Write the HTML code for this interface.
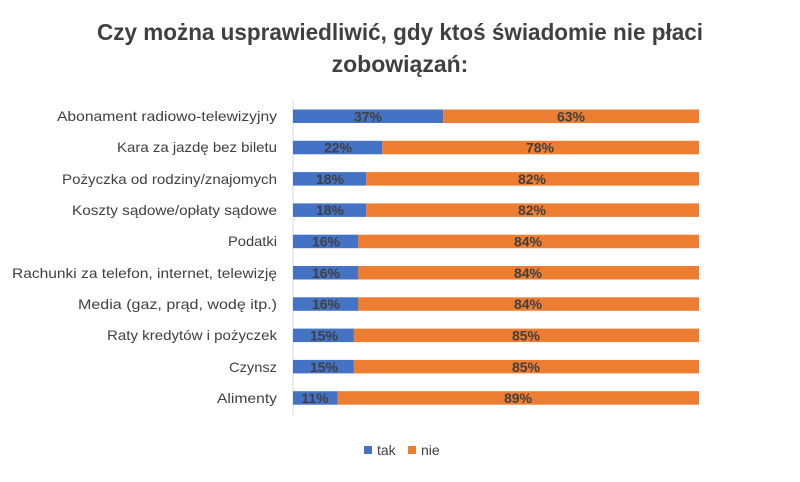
<!DOCTYPE html>
<html><head><meta charset="utf-8"><style>
body{margin:0;background:#fff;width:800px;height:477px;overflow:hidden;font-family:"Liberation Sans",sans-serif;}
</style></head><body>
<svg width="800" height="477" xmlns="http://www.w3.org/2000/svg" font-family="Liberation Sans, sans-serif">
<text x="400" y="40" text-anchor="middle" font-size="23" font-weight="bold" fill="#404040" textLength="606" lengthAdjust="spacingAndGlyphs">Czy można usprawiedliwić, gdy ktoś świadomie nie płaci</text>
<text x="400" y="72" text-anchor="middle" font-size="23" font-weight="bold" fill="#404040">zobowiązań:</text>
<line x1="293" y1="100" x2="293" y2="415" stroke="#d9d9d9"/>
<g font-size="14" fill="#404040" lengthAdjust="spacingAndGlyphs">
<text x="57" y="121" textLength="220" lengthAdjust="spacingAndGlyphs">Abonament radiowo-telewizyjny</text>
<text x="117" y="152" textLength="160" lengthAdjust="spacingAndGlyphs">Kara za jazdę bez biletu</text>
<text x="62" y="184" textLength="215" lengthAdjust="spacingAndGlyphs">Pożyczka od rodziny/znajomych</text>
<text x="72" y="215" textLength="205" lengthAdjust="spacingAndGlyphs">Koszty sądowe/opłaty sądowe</text>
<text x="228" y="246" textLength="49" lengthAdjust="spacingAndGlyphs">Podatki</text>
<text x="12" y="278" textLength="265" lengthAdjust="spacingAndGlyphs">Rachunki za telefon, internet, telewizję</text>
<text x="78" y="309" textLength="199" lengthAdjust="spacingAndGlyphs">Media (gaz, prąd, wodę itp.)</text>
<text x="107" y="340" textLength="170" lengthAdjust="spacingAndGlyphs">Raty kredytów i pożyczek</text>
<text x="229" y="372" textLength="48" lengthAdjust="spacingAndGlyphs">Czynsz</text>
<text x="217" y="403" textLength="60" lengthAdjust="spacingAndGlyphs">Alimenty</text>
</g>
<g font-size="14" font-weight="bold" fill="#404040" text-anchor="middle">
<rect x="293" y="109.5" width="150.2" height="13.5" fill="#4472c4"/><rect x="443.2" y="109.5" width="255.8" height="13.5" fill="#ed7d31"/><text x="368" y="121.5">37%</text><text x="571" y="121.5">63%</text>
<rect x="293" y="140.8" width="89.3" height="13.5" fill="#4472c4"/><rect x="382.3" y="140.8" width="316.7" height="13.5" fill="#ed7d31"/><text x="338" y="152.5">22%</text><text x="540" y="152.5">78%</text>
<rect x="293" y="172.1" width="73.1" height="13.5" fill="#4472c4"/><rect x="366.1" y="172.1" width="332.9" height="13.5" fill="#ed7d31"/><text x="330" y="184">18%</text><text x="532" y="184">82%</text>
<rect x="293" y="203.4" width="73.1" height="13.5" fill="#4472c4"/><rect x="366.1" y="203.4" width="332.9" height="13.5" fill="#ed7d31"/><text x="330" y="215">18%</text><text x="532" y="215">82%</text>
<rect x="293" y="234.7" width="65" height="13.5" fill="#4472c4"/><rect x="358" y="234.7" width="341" height="13.5" fill="#ed7d31"/><text x="326" y="246.5">16%</text><text x="528" y="246.5">84%</text>
<rect x="293" y="266" width="65" height="13.5" fill="#4472c4"/><rect x="358" y="266" width="341" height="13.5" fill="#ed7d31"/><text x="326" y="278">16%</text><text x="528" y="278">84%</text>
<rect x="293" y="297.3" width="65" height="13.5" fill="#4472c4"/><rect x="358" y="297.3" width="341" height="13.5" fill="#ed7d31"/><text x="326" y="309">16%</text><text x="528" y="309">84%</text>
<rect x="293" y="328.6" width="60.9" height="13.5" fill="#4472c4"/><rect x="353.9" y="328.6" width="345.1" height="13.5" fill="#ed7d31"/><text x="324" y="340.5">15%</text><text x="526" y="340.5">85%</text>
<rect x="293" y="359.9" width="60.9" height="13.5" fill="#4472c4"/><rect x="353.9" y="359.9" width="345.1" height="13.5" fill="#ed7d31"/><text x="324" y="372">15%</text><text x="526" y="372">85%</text>
<rect x="293" y="391.2" width="44.7" height="13.5" fill="#4472c4"/><rect x="337.7" y="391.2" width="361.3" height="13.5" fill="#ed7d31"/><text x="315" y="403">11%</text><text x="518" y="403">89%</text>
</g>
<rect x="364" y="446" width="8" height="8" fill="#4472c4"/>
<text x="377" y="455" font-size="14" fill="#404040">tak</text>
<rect x="408" y="446" width="8" height="8" fill="#ed7d31"/>
<text x="421" y="455" font-size="14" fill="#404040">nie</text>
</svg>
</body></html>
